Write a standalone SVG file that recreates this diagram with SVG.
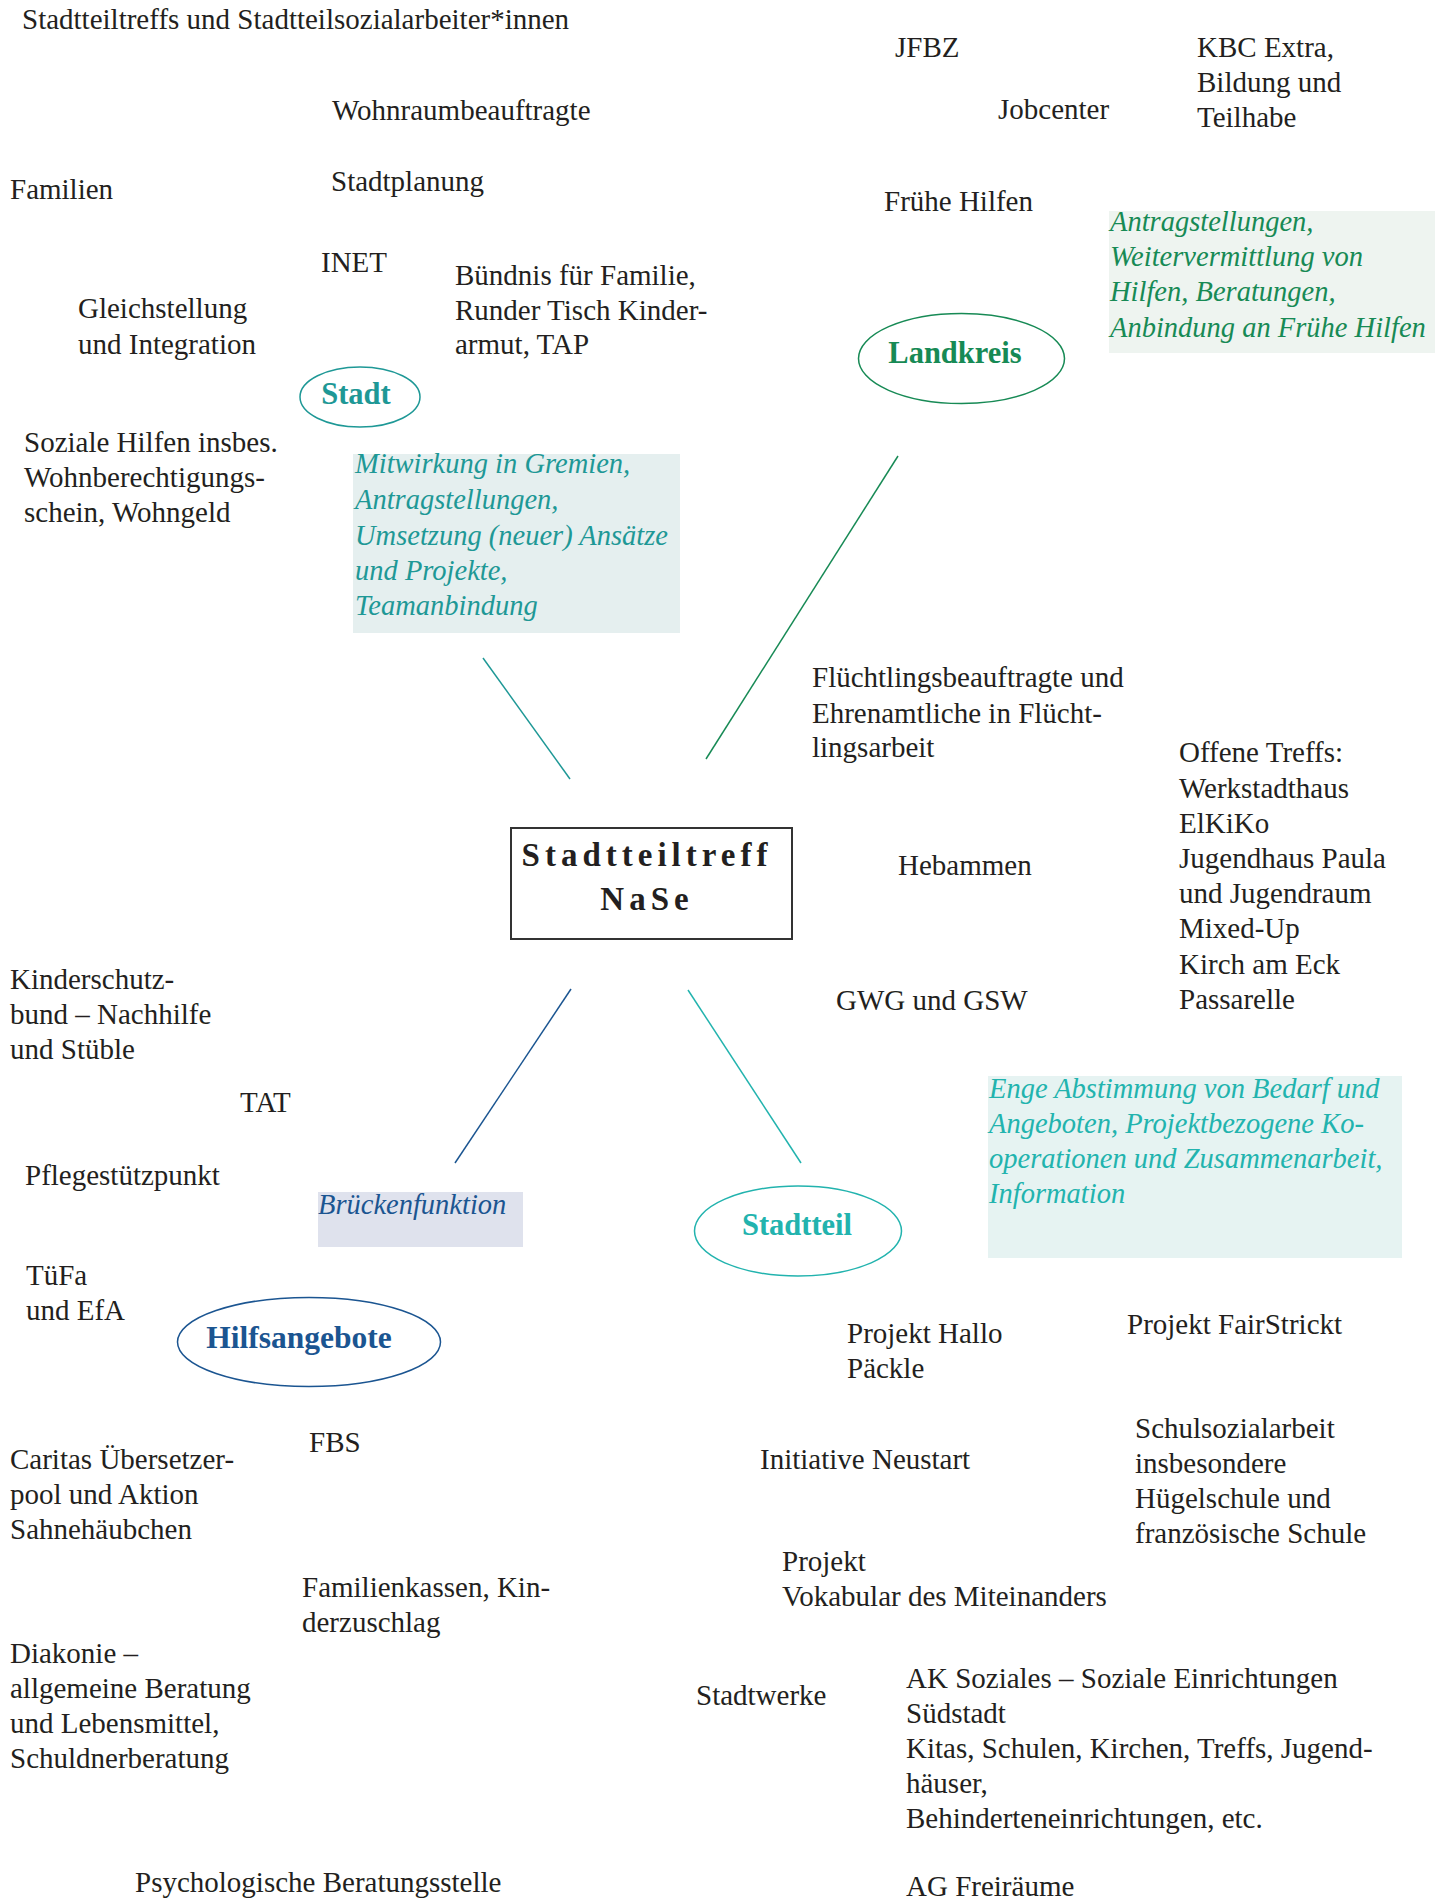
<svg xmlns="http://www.w3.org/2000/svg" width="1445" height="1901" viewBox="0 0 1445 1901">
<style>
text{font-family:"Liberation Serif","Times New Roman",serif;font-size:29px;fill:#231f20}
.it{font-style:italic;font-size:28.5px}
.lbl{font-weight:bold;font-size:30.5px;text-anchor:middle}
.teal{fill:#1e9896}.green{fill:#178a55}.blue{fill:#1b5591}.lteal{fill:#22b3ae}
.center{font-weight:bold;font-size:33px;letter-spacing:5px;text-anchor:middle}
</style>
<rect width="1445" height="1901" fill="#ffffff"/>
<g id="connectors" fill="none" stroke-width="1.5">
<line x1="483" y1="658" x2="570" y2="779" stroke="#1e9896"/>
<line x1="898" y1="456" x2="706" y2="759" stroke="#178a55"/>
<line x1="571" y1="989" x2="455" y2="1163" stroke="#1b5591"/>
<line x1="688" y1="990" x2="801" y2="1163" stroke="#22b3ae"/>
</g>
<g id="center-node">
<rect x="511" y="828" width="281" height="111" fill="#fff" stroke="#333" stroke-width="2"/>
<text class="center" x="647" y="866">Stadtteiltreff</text>
<text class="center" x="647" y="910">NaSe</text>
</g>
<g id="stadt">
<ellipse cx="360" cy="397" rx="60" ry="30" fill="none" stroke="#1e9896" stroke-width="1.5"/>
<text class="lbl teal" x="356" y="404">Stadt</text>
</g>
<g id="landkreis">
<ellipse cx="961.5" cy="358.5" rx="103" ry="45" fill="none" stroke="#178a55" stroke-width="1.5"/>
<text class="lbl green" x="955" y="363">Landkreis</text>
</g>
<g id="hilfsangebote">
<ellipse cx="309" cy="1342" rx="131.5" ry="44.5" fill="none" stroke="#1b5591" stroke-width="1.5"/>
<text class="lbl blue" x="299" y="1348" style="font-size:31.5px">Hilfsangebote</text>
</g>
<g id="stadtteil">
<ellipse cx="798" cy="1231" rx="103.5" ry="45" fill="none" stroke="#22b3ae" stroke-width="1.5"/>
<text class="lbl lteal" x="797" y="1235">Stadtteil</text>
</g>
<g id="box-stadt">
<rect x="353" y="454" width="327" height="179" fill="#e5efef"/>
<text class="it teal" x="355" y="473">Mitwirkung in Gremien,</text>
<text class="it teal" x="355" y="509">Antragstellungen,</text>
<text class="it teal" x="355" y="545">Umsetzung (neuer) Ansätze</text>
<text class="it teal" x="355" y="580">und Projekte,</text>
<text class="it teal" x="355" y="615">Teamanbindung</text>
</g>
<g id="box-landkreis">
<rect x="1109" y="211" width="326" height="142" fill="#eef4f0"/>
<text class="it green" x="1110" y="231">Antragstellungen,</text>
<text class="it green" x="1110" y="266">Weitervermittlung von</text>
<text class="it green" x="1110" y="301">Hilfen, Beratungen,</text>
<text class="it green" x="1110" y="337">Anbindung an Frühe Hilfen</text>
</g>
<g id="box-bruecke">
<rect x="318" y="1192" width="205" height="55" fill="#dfe2ed"/>
<text class="it blue" x="318" y="1214">Brückenfunktion</text>
</g>
<g id="box-stadtteil">
<rect x="988" y="1076" width="414" height="182" fill="#e6f3f2"/>
<text class="it lteal" x="989" y="1098">Enge Abstimmung von Bedarf und</text>
<text class="it lteal" x="989" y="1133">Angeboten, Projektbezogene Ko-</text>
<text class="it lteal" x="989" y="1168">operationen und Zusammenarbeit,</text>
<text class="it lteal" x="989" y="1203">Information</text>
</g>
<g id="n-stadtteiltreffs"><text x="22" y="29">Stadtteiltreffs und Stadtteilsozialarbeiter*innen</text></g>
<g id="n-wohnraum"><text x="332" y="120">Wohnraumbeauftragte</text></g>
<g id="n-stadtplanung"><text x="331" y="191">Stadtplanung</text></g>
<g id="n-familien"><text x="10" y="199">Familien</text></g>
<g id="n-inet"><text x="321" y="272">INET</text></g>
<g id="n-buendnis"><text x="455" y="285">Bündnis für Familie,</text><text x="455" y="320">Runder Tisch Kinder-</text><text x="455" y="354">armut, TAP</text></g>
<g id="n-gleichstellung"><text x="78" y="318">Gleichstellung</text><text x="78" y="354">und Integration</text></g>
<g id="n-soziale"><text x="24" y="452">Soziale Hilfen insbes.</text><text x="24" y="487">Wohnberechtigungs-</text><text x="24" y="522">schein, Wohngeld</text></g>
<g id="n-jfbz"><text x="895" y="57">JFBZ</text></g>
<g id="n-kbc"><text x="1197" y="57">KBC Extra,</text><text x="1197" y="92">Bildung und</text><text x="1197" y="127">Teilhabe</text></g>
<g id="n-jobcenter"><text x="998" y="119">Jobcenter</text></g>
<g id="n-fruehe"><text x="884" y="211">Frühe Hilfen</text></g>
<g id="n-fluechtling"><text x="812" y="687">Flüchtlingsbeauftragte und</text><text x="812" y="723">Ehrenamtliche in Flücht-</text><text x="812" y="757">lingsarbeit</text></g>
<g id="n-offene"><text x="1179" y="762">Offene Treffs:</text><text x="1179" y="798">Werkstadthaus</text><text x="1179" y="833">ElKiKo</text><text x="1179" y="868">Jugendhaus Paula</text><text x="1179" y="903">und Jugendraum</text><text x="1179" y="938">Mixed-Up</text><text x="1179" y="974">Kirch am Eck</text><text x="1179" y="1009">Passarelle</text></g>
<g id="n-hebammen"><text x="898" y="875">Hebammen</text></g>
<g id="n-gwg"><text x="836" y="1010">GWG und GSW</text></g>
<g id="n-kinderschutz"><text x="10" y="989">Kinderschutz-</text><text x="10" y="1024">bund – Nachhilfe</text><text x="10" y="1059">und Stüble</text></g>
<g id="n-tat"><text x="240" y="1112">TAT</text></g>
<g id="n-pflege"><text x="25" y="1185">Pflegestützpunkt</text></g>
<g id="n-tuefa"><text x="26" y="1285">TüFa</text><text x="26" y="1320">und EfA</text></g>
<g id="n-hallo"><text x="847" y="1343">Projekt Hallo</text><text x="847" y="1378">Päckle</text></g>
<g id="n-fairstrickt"><text x="1127" y="1334">Projekt FairStrickt</text></g>
<g id="n-fbs"><text x="309" y="1452">FBS</text></g>
<g id="n-caritas"><text x="10" y="1469">Caritas Übersetzer-</text><text x="10" y="1504">pool und Aktion</text><text x="10" y="1539">Sahnehäubchen</text></g>
<g id="n-familienkassen"><text x="302" y="1597">Familienkassen, Kin-</text><text x="302" y="1632">derzuschlag</text></g>
<g id="n-diakonie"><text x="10" y="1663">Diakonie –</text><text x="10" y="1698">allgemeine Beratung</text><text x="10" y="1733">und Lebensmittel,</text><text x="10" y="1768">Schuldnerberatung</text></g>
<g id="n-psych"><text x="135" y="1892">Psychologische Beratungsstelle</text></g>
<g id="n-stadtwerke"><text x="696" y="1705">Stadtwerke</text></g>
<g id="n-neustart"><text x="760" y="1469">Initiative Neustart</text></g>
<g id="n-schulsozial"><text x="1135" y="1438">Schulsozialarbeit</text><text x="1135" y="1473">insbesondere</text><text x="1135" y="1508">Hügelschule und</text><text x="1135" y="1543">französische Schule</text></g>
<g id="n-vokabular"><text x="782" y="1571">Projekt</text><text x="782" y="1606">Vokabular des Miteinanders</text></g>
<g id="n-ak"><text x="906" y="1688">AK Soziales – Soziale Einrichtungen</text><text x="906" y="1723">Südstadt</text><text x="906" y="1758">Kitas, Schulen, Kirchen, Treffs, Jugend-</text><text x="906" y="1793">häuser,</text><text x="906" y="1828">Behinderteneinrichtungen, etc.</text><text x="906" y="1896">AG Freiräume</text></g>
</svg>
